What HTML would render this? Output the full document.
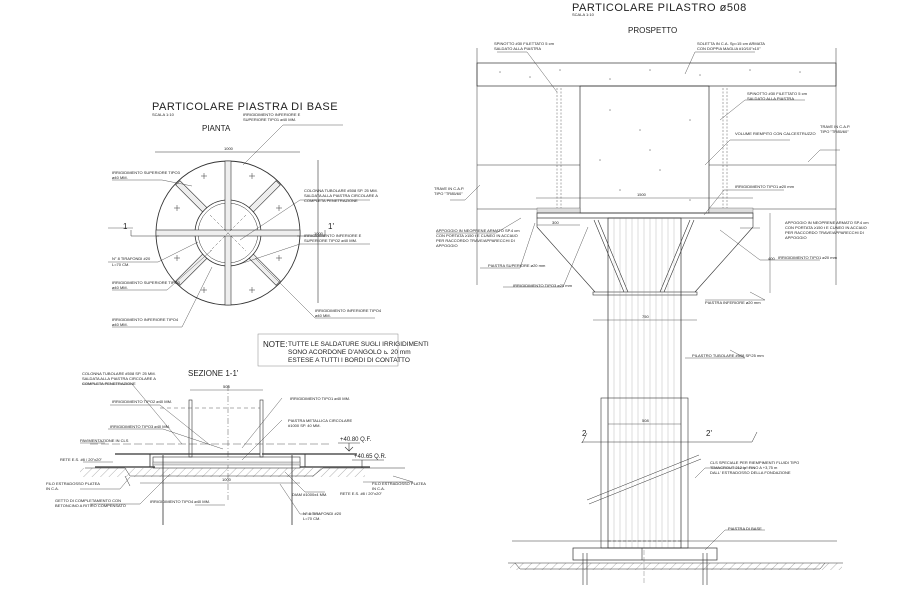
<!DOCTYPE html>
<html><head><meta charset="utf-8"><style>
html,body{margin:0;padding:0;background:#fff}
svg{display:block}
text{font-family:"Liberation Sans",sans-serif;fill:#222}
.s{font-size:4px}
.t{font-size:11px;letter-spacing:0.5px}
.m{font-size:8px}
</style></head><body>
<svg width="900" height="600" viewBox="0 0 900 600" xmlns="http://www.w3.org/2000/svg" stroke="#333" fill="none" stroke-width="0.6">
<defs>
<pattern id="h" width="6" height="6" patternUnits="userSpaceOnUse" patternTransform="rotate(45)"><line x1="0" y1="0" x2="0" y2="6" stroke="#666" stroke-width="0.5"/></pattern>
</defs>
<g stroke="none">
<text x="152" y="110" class="t">PARTICOLARE PIASTRA DI BASE</text>
<text x="152" y="116" class="s">SCALA 1:10</text>
<text x="202" y="131" class="m">PIANTA</text>
<text x="572" y="11" class="t">PARTICOLARE PILASTRO ø508</text>
<text x="572" y="16" class="s">SCALA 1:10</text>
<text x="628" y="33" class="m">PROSPETTO</text>
<text x="188" y="376" class="m">SEZIONE 1-1'</text>
</g>
<!-- PLAN VIEW -->
<line x1="155" y1="152" x2="300" y2="152"/>
<text x="224" y="150" class="s" stroke="none">1000</text>
<line x1="318" y1="160" x2="318" y2="303"/>
<text x="314" y="235" class="s" stroke="none">1000</text>
<circle cx="228" cy="233" r="72" stroke-width="0.9"/>
<circle cx="228" cy="233" r="33" stroke-width="0.8"/>
<circle cx="228" cy="233" r="30" stroke-width="0.5"/>
<g fill="#eee" stroke-width="0.6">
<rect x="225" y="161" width="6" height="144"/>
<rect x="156" y="230" width="144" height="6"/>
<g transform="rotate(45 228 233)"><rect x="157" y="230" width="38" height="6"/><rect x="261" y="230" width="38" height="6"/></g>
<g transform="rotate(-45 228 233)"><rect x="157" y="230" width="38" height="6"/><rect x="261" y="230" width="38" height="6"/></g>
</g>
<path d="M210 215l36 36M246 215l-36 36" stroke-dasharray="3 2" stroke-width="0.4"/>
<g stroke-width="0.5">
<path d="M201 176h6M204 173v6M249 176h6M252 173v6M174 208h6M177 205v6M276 208h6M279 205v6M174 258h6M177 255v6M276 258h6M279 255v6M201 290h6M204 287v6M249 290h6M252 287v6"/>
</g>
<path d="M131 230v6h28M325 230v6h-28" stroke-width="0.5"/>
<text x="123" y="229" class="m" stroke="none">1</text><text x="328" y="229" class="m" stroke="none">1'</text>
<g stroke-width="0.4">
<path d="M112 180h50l30 6M112 290h55l45-40M112 327h70l30-60M283 125h60M283 125l-40 40M300 200h70M300 200l-60 40M300 244h70M300 244l-60 20M315 318h60M315 318l-60-60M108 228h25M108 262h50l40-20"/>
</g>
<g stroke="none" class="s">
<text x="243" y="116">IRRIGIDIMENTO INFERIORE E</text><text x="243" y="121">SUPERIORE TIPO1 ⌀40 MM.</text>
<text x="112" y="174">IRRIGIDIMENTO SUPERIORE TIPO3</text><text x="112" y="179">⌀40 MM.</text>
<text x="304" y="192">COLONNA TUBOLARE #508 SP. 25 MM.</text><text x="304" y="197">SALDATA ALLA PIASTRA CIRCOLARE A</text><text x="304" y="202">COMPLETA PENETRAZIONE</text>
<text x="304" y="237">IRRIGIDIMENTO INFERIORE E</text><text x="304" y="242">SUPERIORE TIPO2 ⌀40 MM.</text>
<text x="112" y="260">N° 8 TIRAFONDI #20</text><text x="112" y="266">L=70 CM.</text>
<text x="112" y="284">IRRIGIDIMENTO SUPERIORE TIPO3</text><text x="112" y="289">⌀40 MM.</text>
<text x="112" y="321">IRRIGIDIMENTO INFERIORE TIPO4</text><text x="112" y="326">⌀40 MM.</text>
<text x="315" y="312">IRRIGIDIMENTO INFERIORE TIPO4</text><text x="315" y="317">⌀40 MM.</text>
</g>
<rect x="258" y="334" width="140" height="32" stroke="#888" stroke-width="0.5"/>
<g stroke="none"><text x="263" y="347" class="m">NOTE:</text>
<text x="288" y="346" style="font-size:6.5px">TUTTE LE SALDATURE SUGLI IRRIGIDIMENTI</text>
<text x="288" y="354" style="font-size:6.5px">SONO ACORDONE D'ANGOLO ⊾ 20 mm</text>
<text x="288" y="362" style="font-size:6.5px">ESTESE A TUTTI I BORDI DI CONTATTO</text></g>
<!-- SECTION 1-1' -->
<line x1="190" y1="390" x2="263" y2="390" stroke-width="0.4"/>
<text x="223" y="388" class="s" stroke="none">508</text>
<line x1="228" y1="385" x2="228" y2="500" stroke-dasharray="6 2 1 2" stroke-width="0.4"/>
<path d="M160 408h100" stroke-dasharray="4 3" stroke-width="0.4"/>
<rect x="189" y="400" width="3" height="57" stroke-width="0.6"/>
<rect x="260" y="400" width="3" height="57" stroke-width="0.6"/>
<rect x="153" y="457" width="147" height="11"/>
<rect x="153" y="462" width="147" height="3" fill="#ddd" stroke-width="0.3"/>
<path d="M90 444h240" stroke-dasharray="8 3" stroke-width="0.4"/>
<path d="M115 454h145M262 454h95" stroke-width="1.2"/>
<path d="M95 467h60M300 467h70" stroke-width="1.2"/>
<path d="M150 454v13M305 454v13" stroke-width="0.8"/>
<rect x="80" y="468" width="285" height="9" fill="url(#h)" stroke="none"/>
<path d="M85 468h40l5 8h183l10-8h82M125 476l5 10" stroke-width="0.5"/>
<path d="M163 455v70M292 455v70" stroke-width="0.8"/>
<path d="M140 483h160" stroke-width="0.4"/>
<text x="222" y="481" class="s" stroke="none">1000</text>
<path d="M338 443h22M349 443v8l-4-4M349 451l4-4" stroke-width="0.6"/>
<text x="340" y="441" style="font-size:6px" stroke="none">+40.80 Q.F.</text>
<path d="M352 460h32M362 460v8" stroke-width="0.6"/>
<text x="354" y="458" style="font-size:6px" stroke="none">+40.65 Q.R.</text>
<g stroke-width="0.4"><path d="M82 384h50l50 60M110 405h50l50 40M108 429h55l60 20M282 398l-40 50M282 420l-40 40M80 443h25M83 462h30M80 489h40l10-12M90 504h50l30-30M195 505h30M305 492h20M305 492l-20-20M320 514h-20l-20-30M363 482h50l-20-6"/></g>
<g stroke="none" class="s">
<text x="82" y="375">COLONNA TUBOLARE #508 SP. 25 MM.</text><text x="82" y="380">SALDATA ALLA PIASTRA CIRCOLARE A</text><text x="82" y="385">COMPLETA PENETRAZIONE</text>
<text x="112" y="403">IRRIGIDIMENTO TIPO2 ⌀40 MM.</text>
<text x="110" y="428">IRRIGIDIMENTO TIPO3 ⌀40 MM.</text>
<text x="80" y="442">PAVIMENTAZIONE IN CLS</text>
<text x="60" y="461">RETE E.S. #8 / 20"x20"</text>
<text x="46" y="485">FILO ESTRADOSSO PLATEA</text><text x="46" y="490">IN C.A.</text>
<text x="55" y="502">GETTO DI COMPLETAMENTO CON</text><text x="55" y="507">BETONCINO A RITIRO COMPENSATO</text>
<text x="150" y="503">IRRIGIDIMENTO TIPO4 ⌀40 MM.</text>
<text x="290" y="400">IRRIGIDIMENTO TIPO1 ⌀40 MM.</text>
<text x="288" y="422">PIASTRA METALLICA CIRCOLARE</text><text x="288" y="427">#1000 SP. 40 MM.</text>
<text x="372" y="485">FILO ESTRADOSSO PLATEA</text><text x="372" y="490">IN C.A.</text>
<text x="340" y="495">RETE E.S. #8 / 20"x20"</text>
<text x="292" y="496">DIAM #1000x4 MM.</text>
<text x="303" y="515">N° 8 TIRAFONDI #20</text><text x="303" y="520">L=70 CM.</text>
</g>
<!-- ELEVATION -->
<path d="M477 48v237M836 48v237" stroke-width="0.5"/>
<rect x="477" y="63" width="359" height="23" stroke-width="0.7"/>
<path d="M477 165h103M709 165h127" stroke-width="0.5"/>
<path d="M477 209h103M709 209h127" stroke-width="0.6"/>
<rect x="580" y="86" width="129" height="127" stroke-width="0.7"/>
<path d="M557 88v125M561 88v125M723 88v125M727 88v125" stroke-dasharray="2 1.5" stroke-width="0.4"/>
<g fill="#999" stroke="none"><circle cx="500" cy="72" r="0.8"/><circle cx="530" cy="77" r="0.8"/><circle cx="560" cy="70" r="0.8"/><circle cx="610" cy="79" r="0.8"/><circle cx="650" cy="70" r="0.8"/><circle cx="700" cy="75" r="0.8"/><circle cx="750" cy="70" r="0.8"/><circle cx="800" cy="72" r="0.8"/><circle cx="610" cy="110" r="0.8"/><circle cx="640" cy="130" r="0.8"/><circle cx="690" cy="120" r="0.8"/><circle cx="600" cy="160" r="0.8"/><circle cx="660" cy="170" r="0.8"/><circle cx="620" cy="190" r="0.8"/><circle cx="690" cy="200" r="0.8"/><circle cx="650" cy="150" r="0.8"/></g>
<path d="M536 198h217" stroke-width="0.4"/><text x="637" y="196" class="s" stroke="none">1500</text>
<rect x="537" y="208" width="43" height="5" fill="#ddd" stroke-width="0.3"/>
<rect x="709" y="208" width="44" height="5" fill="#ddd" stroke-width="0.3"/>
<rect x="537" y="213" width="216" height="5" stroke-width="0.7"/>
<path d="M537 227L595 292M753 227L695 292M537 218v9M753 218v9" stroke-width="0.6"/>
<path d="M594 220l30 72M598 220l30 72M694 220l-30 72M690 220l-30 72" stroke-width="0.6"/>
<rect x="593" y="292" width="104" height="3" stroke-width="0.6"/>
<path d="M537 225h43" stroke-width="0.4"/>
<text x="552" y="224" class="s" stroke="none">300</text>
<path d="M770 213v80" stroke-width="0.4"/>
<text x="768" y="260" class="s" stroke="none">400</text>
<path d="M593 320h104" stroke-width="0.4"/><text x="642" y="318" class="s" stroke="none">750</text>
<rect x="608" y="218" width="73" height="330" stroke-width="0.7"/>
<g stroke-width="0.25" stroke="#777"><path d="M614 218v330M620 218v330M626 218v330M632 218v330M638 218v330M644 218v330M650 218v330M656 218v330M662 218v330M668 218v330M674 218v330"/></g>
<rect x="601" y="398" width="87" height="150" stroke-width="0.6"/>
<path d="M608 424h73" stroke-width="0.4"/><text x="642" y="422" class="s" stroke="none">508</text>
<path d="M587 433l-5 10v-1h170l5-10" stroke-width="0.5"/>
<text x="582" y="436" class="m" stroke="none">2</text><text x="706" y="436" class="m" stroke="none">2'</text>
<path d="M587 500l112-45M589 504l112-45" stroke-width="0.5"/>
<path d="M512 541h325" stroke-width="0.5"/>
<path d="M608 541h73" stroke-dasharray="3 2" stroke-width="0.5"/>
<rect x="573" y="548" width="144" height="12" stroke-width="0.7"/>
<path d="M642 548v12" stroke-width="0.6"/>
<rect x="510" y="563" width="332" height="7" fill="url(#h)" stroke="none"/>
<path d="M508 563h335M515 563l5 6h300l5-6" stroke-width="0.5"/>
<path d="M583 553v32M587 553v32M703 553v32M707 553v32" stroke-width="0.6"/>
<path d="M644 550v35" stroke-dasharray="5 2" stroke-width="0.3"/>
<g stroke-width="0.4"><path d="M497 52h30l30 40M695 52h60M695 52l-10 22M745 100h60M745 100l-25 20M730 140h60M730 140l-25 25M820 150h20M820 150l-12 12M450 200h15l15-15M436 233h60l25-15M480 268h40l15-45M503 287h60l25-60M724 190h60M724 190l-20 25M760 228h-20M760 260h60M760 260l-40-30M705 300h60l-15-8M685 358h60l-15-8M705 468h50M705 468l-10 10M725 530h40M725 530l-20 20"/></g>
<g stroke="none" class="s">
<text x="494" y="45">SPINOTTO #30 FILETTATO 5 cm</text><text x="494" y="50">SALDATO ALLA PIASTRA</text>
<text x="697" y="45">SOLETTA IN C.A. Sp=15 cm ARMATA</text><text x="697" y="50">CON DOPPIA MAGLIA #10/10"x10"</text>
<text x="747" y="95">SPINOTTO #30 FILETTATO 5 cm</text><text x="747" y="100">SALDATO ALLA PIASTRA</text>
<text x="735" y="135">VOLUME RIEMPITO CON CALCESTRUZZO</text>
<text x="820" y="128">TRAVE IN C.A.P.</text><text x="820" y="133">TIPO "TR85/60"</text>
<text x="434" y="190">TRAVE IN C.A.P.</text><text x="434" y="195">TIPO "TR85/60"</text>
<text x="735" y="188">IRRIGIDIMENTO TIPO1 ⌀20 mm</text>
<text x="436" y="232">APPOGGIO IN NEOPRENE ARMATO SP.4 cm</text><text x="436" y="237">CON PORTATA ≥150 t E CUNEO IN ACCIAIO</text><text x="436" y="242">PER RACCORDO TRAVE/APPARECCHI DI</text><text x="436" y="247">APPOGGIO</text>
<text x="785" y="224">APPOGGIO IN NEOPRENE ARMATO SP.4 cm</text><text x="785" y="229">CON PORTATA ≥150 t E CUNEO IN ACCIAIO</text><text x="785" y="234">PER RACCORDO TRAVE/APPARECCHI DI</text><text x="785" y="239">APPOGGIO</text>
<text x="488" y="267">PIASTRA SUPERIORE ⌀20 mm</text>
<text x="778" y="259">IRRIGIDIMENTO TIPO1 ⌀20 mm</text>
<text x="513" y="287">IRRIGIDIMENTO TIPO3 ⌀20 mm</text>
<text x="705" y="304">PIASTRA INFERIORE ⌀20 mm</text>
<text x="692" y="357">PILASTRO TUBOLARE #508 SP.25 mm</text>
<text x="710" y="464">CLS SPECIALE PER RIEMPIMENTI FLUIDI TIPO</text><text x="710" y="469">"EMACROUT 212 ip" FINO A +3,75 m</text><text x="710" y="474">DALL' ESTRADOSSO DELLA FONDAZIONE</text>
<text x="728" y="530">PIASTRA DI BASE</text>
</g>
</svg>
</body></html>
